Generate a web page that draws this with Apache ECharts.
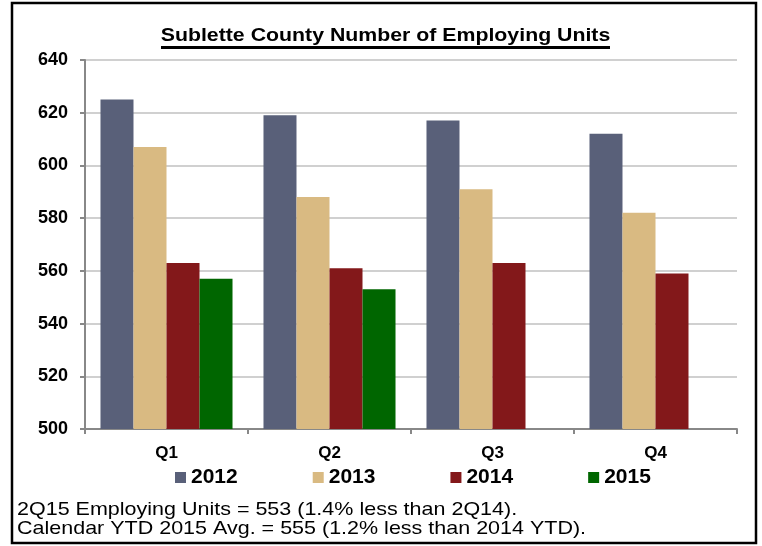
<!DOCTYPE html>
<html>
<head>
<meta charset="utf-8">
<script src="https://cdn.jsdelivr.net/npm/echarts@6/dist/echarts.min.js"></script>
<style>
  html, body { margin: 0; padding: 0; background: #fff; }
  #chart { width: 762px; height: 546px; }
</style>
</head>
<body>
<div id="chart"></div>
<script>
const quarters = ["Q1", "Q2", "Q3", "Q4"];
const years = ["2012", "2013", "2014", "2015"];
const units2012 = [625, 619, 617, 612];
const units2013 = [607, 588, 591, 582];
const units2014 = [563, 561, 563, 559];
const units2015 = [557, 553, "-", "-"];
const yTicks = { min: 500, max: 640, step: 20 };
const noteLines = [
  "2Q15 Employing Units = 553 (1.4% less than 2Q14).",
  "Calendar YTD 2015 Avg. = 555 (1.2% less than 2014 YTD).",
];

const colors = ["#596079", "#d9ba82", "#83181a", "#006600"];
const font = "'Liberation Sans', Arial, sans-serif";

const chart = echarts.init(document.getElementById("chart"));

const seriesData = [units2012, units2013, units2014, units2015];

// the source picture is a bit stretched sideways, so texts get squeezed a bit
const noteText = (line, y) => ({
  type: "text",
  x: 17,
  y: y,
  scaleY: 0.88,
  style: {
    text: line,
    fontFamily: font,
    fontSize: 21.5,
    fill: "#000",
    verticalAlign: "middle",
  },
});

const options = {
  animation: false,
  color: colors,
  textStyle: { fontFamily: font },
  grid: {
    left: 85,
    right: 25,
    top: 60,
    bottom: 117,
    containLabel: false,
  },
  legend: {
    left: 170,
    top: 462,
    icon: "rect",
    itemWidth: 11,
    itemHeight: 11,
    itemGap: 75,
    data: years,
    textStyle: {
      fontFamily: font,
      fontWeight: "bold",
      fontSize: 21,
      color: "#000",
    },
  },
  xAxis: {
    type: "category",
    data: quarters,
    axisLine: { lineStyle: { color: "#888", width: 2 } },
    axisTick: { show: true, length: 5, lineStyle: { color: "#888", width: 2 } },
    axisLabel: {
      margin: 16,
      fontFamily: font,
      fontWeight: "bold",
      fontSize: 17,
      color: "#000",
    },
  },
  yAxis: {
    type: "value",
    min: yTicks.min,
    max: yTicks.max,
    interval: yTicks.step,
    axisLine: { show: true, lineStyle: { color: "#888", width: 2 } },
    axisTick: { show: true, length: 5, lineStyle: { color: "#888", width: 2 } },
    splitLine: { lineStyle: { color: "#c0c0c0", width: 1.5 } },
    axisLabel: {
      margin: 17,
      fontFamily: font,
      fontWeight: "bold",
      fontSize: 18,
      color: "#000",
    },
  },
  series: years.map((name, i) => ({
    name: name,
    type: "bar",
    data: seriesData[i],
    barGap: "0%",
    barCategoryGap: "19%",
    itemStyle: { color: colors[i] },
  })),
  graphic: [
    {
      type: "rect",
      shape: { x: 12, y: 3, width: 744, height: 540 },
      style: { fill: null, stroke: "#000", lineWidth: 2.5 },
      silent: true,
    },
    {
      type: "text",
      x: 385.5,
      y: 36,
      scaleY: 0.9,
      style: {
        text: "Sublette County Number of Employing Units",
        fontFamily: font,
        fontWeight: "bold",
        fontSize: 21.3,
        fill: "#000",
        align: "center",
        verticalAlign: "middle",
      },
    },
    {
      type: "line",
      shape: { x1: 161, y1: 47.5, x2: 610, y2: 47.5 },
      style: { stroke: "#000", lineWidth: 3 },
      silent: true,
    },
    noteText(noteLines[0], 510),
    noteText(noteLines[1], 529),
  ],
};

chart.setOption(options);
window.addEventListener("resize", () => {
  chart.resize();
});
</script>
</body>
</html>
